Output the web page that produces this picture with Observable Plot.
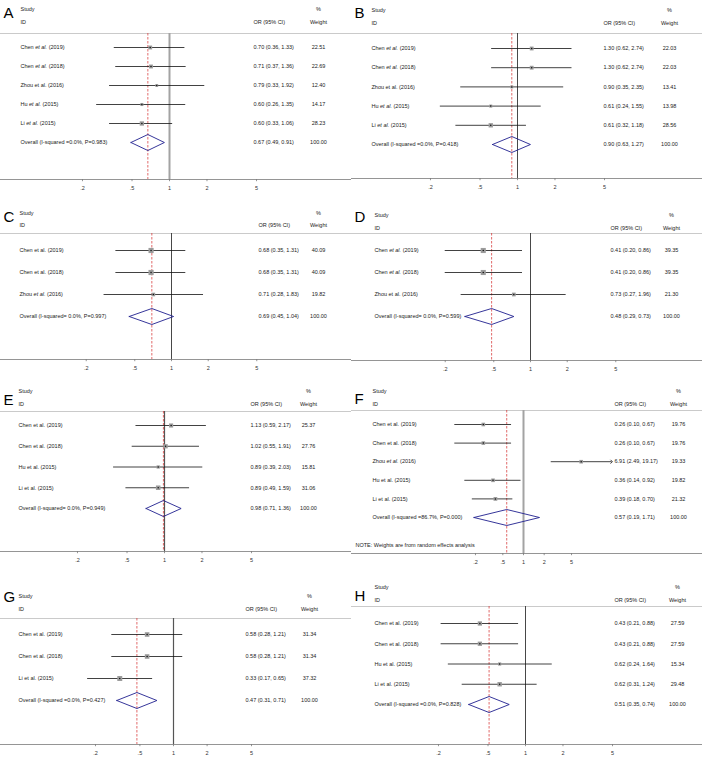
<!DOCTYPE html>
<html><head><meta charset="utf-8">
<script src="https://cdn.jsdelivr.net/npm/d3@7"></script>
<script src="https://cdn.jsdelivr.net/npm/@observablehq/plot@0.6"></script>
<style>
body{margin:0;background:#fff;}
#grid{display:grid;grid-template-columns:351px 351px;grid-template-rows:190px 190px 190px 188px;width:702px;}
#grid > div{position:relative;overflow:visible;}
svg{display:block;}
</style></head><body><div id="grid"></div>
<script>
// ---------------- DATA ----------------
const tickValues = [0.2, 0.5, 1, 2, 5];
const tickLabels = [".2", ".5", "1", "2", "5"];
const noteF = "NOTE: Weights are from random effects analysis";

const studiesA = ["Chen et al. (2019)", "Chen et al. (2018)", "Zhou et al. (2016)", "Hu et al. (2015)", "Li et al. (2015)"];
const italicA = [true, true, false, true, true];
const orA = [0.70, 0.71, 0.79, 0.60, 0.60];
const loA = [0.36, 0.37, 0.33, 0.26, 0.33];
const hiA = [1.33, 1.36, 1.92, 1.35, 1.06];
const wA = [22.51, 22.69, 12.40, 14.17, 28.23];
const overallLabelA = "Overall (I-squared =0.0%, P=0.983)";
const overallA = [0.67, 0.49, 0.91];

const studiesB = ["Chen et al. (2019)", "Chen et al. (2018)", "Zhou et al. (2016)", "Hu et al. (2015)", "Li et al. (2015)"];
const italicB = [true, true, false, true, true];
const orB = [1.30, 1.30, 0.90, 0.61, 0.61];
const loB = [0.62, 0.62, 0.35, 0.24, 0.32];
const hiB = [2.74, 2.74, 2.35, 1.55, 1.18];
const wB = [22.03, 22.03, 13.41, 13.98, 28.56];
const overallLabelB = "Overall (I-squared =0.0%, P=0.418)";
const overallB = [0.90, 0.63, 1.27];

const studiesC = ["Chen et al. (2019)", "Chen et al. (2018)", "Zhou et al. (2016)"];
const italicC = [false, false, true];
const orC = [0.68, 0.68, 0.71];
const loC = [0.35, 0.35, 0.28];
const hiC = [1.31, 1.31, 1.83];
const wC = [40.09, 40.09, 19.82];
const overallLabelC = "Overall (I-squared= 0.0%, P=0.997)";
const overallC = [0.69, 0.45, 1.04];

const studiesD = ["Chen et al. (2019)", "Chen et al. (2018)", "Zhou et al. (2016)"];
const italicD = [true, true, false];
const orD = [0.41, 0.41, 0.73];
const loD = [0.20, 0.20, 0.27];
const hiD = [0.86, 0.86, 1.96];
const wD = [39.35, 39.35, 21.30];
const overallLabelD = "Overall (I-squared= 0.0%, P=0.599)";
const overallD = [0.48, 0.29, 0.73];

const studiesE = ["Chen et al. (2019)", "Chen et al. (2018)", "Hu et al. (2015)", "Li et al. (2015)"];
const italicE = [false, false, false, false];
const orE = [1.13, 1.02, 0.89, 0.89];
const loE = [0.59, 0.55, 0.39, 0.49];
const hiE = [2.17, 1.91, 2.03, 1.59];
const wE = [25.37, 27.76, 15.81, 31.06];
const overallLabelE = "Overall (I-squared= 0.0%, P=0.949)";
const overallE = [0.98, 0.71, 1.36];

const studiesF = ["Chen et al. (2019)", "Chen et al. (2018)", "Zhou et al. (2016)", "Hu et al. (2015)", "Li et al. (2015)"];
const italicF = [false, false, true, false, false];
const orF = [0.26, 0.26, 6.91, 0.36, 0.39];
const loF = [0.10, 0.10, 2.49, 0.14, 0.18];
const hiF = [0.67, 0.67, 19.17, 0.92, 0.70];
const wF = [19.76, 19.76, 19.33, 19.82, 21.32];
const overallLabelF = "Overall (I-squared =86.7%, P=0.000)";
const overallF = [0.57, 0.19, 1.71];

const studiesG = ["Chen et al. (2019)", "Chen et al. (2018)", "Li et al. (2015)"];
const italicG = [false, false, false];
const orG = [0.58, 0.58, 0.33];
const loG = [0.28, 0.28, 0.17];
const hiG = [1.21, 1.21, 0.65];
const wG = [31.34, 31.34, 37.32];
const overallLabelG = "Overall (I-squared =0.0%, P=0.427)";
const overallG = [0.47, 0.31, 0.71];

const studiesH = ["Chen et al. (2019)", "Chen et al. (2018)", "Hu et al. (2015)", "Li et al. (2015)"];
const italicH = [false, false, false, false];
const orH = [0.43, 0.43, 0.62, 0.62];
const loH = [0.21, 0.21, 0.24, 0.31];
const hiH = [0.88, 0.88, 1.64, 1.24];
const wH = [27.59, 27.59, 15.34, 29.48];
const overallLabelH = "Overall (I-squared =0.0%, P=0.828)";
const overallH = [0.51, 0.35, 0.74];

// ---------------- LAYOUT (pixel positions inside each panel) ----------------
const panels = [
  {letter:"A", names:studiesA, italic:italicA, est:orA, lo:loA, hi:hiA, w:wA, ovLabel:overallLabelA, ov:overallA,
   L:{h:190, letterY:17, studyX:20, studyY:9, idY:22, orX:253, wX:318, sep:33, first:47, overall:142, axis:179, nullX:169, k:124.5, nullColor:"#a3a3a3", nullWidth:2}},
  {letter:"B", names:studiesB, italic:italicB, est:orB, lo:loB, hi:hiB, w:wB, ovLabel:overallLabelB, ov:overallB,
   L:{h:190, letterY:17, studyX:20, studyY:10, idY:23, orX:252, wX:318, sep:33, first:48, overall:144, axis:178, nullX:166, k:124.5, nullColor:"#333", nullWidth:0.9}},
  {letter:"C", names:studiesC, italic:italicC, est:orC, lo:loC, hi:hiC, w:wC, ovLabel:overallLabelC, ov:overallC,
   L:{h:190, letterY:31, studyX:19, studyY:23, idY:35, orX:258, wX:318, sep:43, first:60, overall:126, axis:169, nullX:171, k:122, nullColor:"#333", nullWidth:0.9}},
  {letter:"D", names:studiesD, italic:italicD, est:orD, lo:loD, hi:hiD, w:wD, ovLabel:overallLabelD, ov:overallD,
   L:{h:190, letterY:31, studyX:23, studyY:25, idY:38, orX:259, wX:320, sep:43, first:60, overall:126, axis:170, nullX:179, k:122, nullColor:"#333", nullWidth:0.9}},
  {letter:"E", names:studiesE, italic:italicE, est:orE, lo:loE, hi:hiE, w:wE, ovLabel:overallLabelE, ov:overallE,
   L:{h:190, letterY:24, studyX:18, studyY:11, idY:24, orX:250, wX:308, sep:31, first:45, overall:128, axis:171, nullX:164, k:124.5, nullColor:"#555", nullWidth:1.2}},
  {letter:"F", names:studiesF, italic:italicF, est:orF, lo:loF, hi:hiF, w:wF, ovLabel:overallLabelF, ov:overallF, note:noteF,
   L:{h:190, letterY:23, studyX:21, studyY:11, idY:24, orX:263, wX:327, sep:30, first:44, overall:137, axis:173, nullX:172, k:68.7, nullColor:"#a3a3a3", nullWidth:2, noteY:165}},
  {letter:"G", names:studiesG, italic:italicG, est:orG, lo:loG, hi:hiG, w:wG, ovLabel:overallLabelG, ov:overallG,
   L:{h:188, letterY:31, studyX:18, studyY:26, idY:39, orX:245, wX:309, sep:48, first:64, overall:130, axis:174, nullX:173, k:111.6, nullColor:"#555", nullWidth:1.2}},
  {letter:"H", names:studiesH, italic:italicH, est:orH, lo:loH, hi:hiH, w:wH, ovLabel:overallLabelH, ov:overallH,
   L:{h:188, letterY:30, studyX:23, studyY:17, idY:30, orX:263, wX:326, sep:36, first:53, overall:134, axis:174, nullX:174, k:124.5, nullColor:"#333", nullWidth:0.9}}
];

const W = 351;
const fmt = v => v.toFixed(2);
const svgNS = "http://www.w3.org/2000/svg";

function forest(p) {
  const L = p.L, H = L.h, n = p.names.length;
  const rows = p.names.map((name, i) => ({i, name, est: p.est[i], lo: p.lo[i], hi: p.hi[i], w: p.w[i]}));
  const ov = {i: n, name: p.ovLabel, est: p.ov[0], lo: p.ov[1], hi: p.ov[2], w: 100};
  const all = [...rows, ov];
  const unit = (L.overall - L.first) / n;
  const d0 = -(L.first - L.sep) / unit;
  const d1 = n + (L.axis - L.overall) / unit;
  const xd = [Math.pow(10, -L.nullX / L.k), Math.pow(10, (W - L.nullX) / L.k)];
  const h = 8 / unit;
  const diamond = [
    {x: ov.lo, y: n}, {x: ov.est, y: n - h}, {x: ov.hi, y: n}, {x: ov.est, y: n + h}, {x: ov.lo, y: n}
  ];
  const ticks = tickValues.map((v, i) => ({v, label: tickLabels[i]}));
  const txt = {fill: "#222", lineAnchor: "middle"};
  const hdr = (s, dx, yPx, anchor = "start", extra = {}) =>
    Plot.text([s], {text: d => d, frameAnchor: "top-left", dx, dy: yPx - L.sep, textAnchor: anchor, ...txt, ...extra});
  const marks = [
    Plot.ruleY([d0], {stroke: "#bdbdbd", strokeWidth: 0.8}),
    Plot.ruleY([d1], {stroke: "#7a7a7a", strokeWidth: 0.8}),
    Plot.ruleX(ticks, {x: "v", y1: d1, y2: d1 + 2.2 / unit, stroke: "#7a7a7a", strokeWidth: 0.8}),
    Plot.text(ticks, {x: "v", text: "label", frameAnchor: "bottom", dy: 9, ...txt, fill: "#333"}),
    Plot.ruleX([1], {stroke: L.nullColor, strokeWidth: L.nullWidth}),
    Plot.ruleX([ov.est], {stroke: "#d42a2a", strokeWidth: 0.7, strokeDasharray: "2.5,1.5"}),
    Plot.ruleY(rows.filter(d => !(d.hi > 10)), {y: "i", x1: "lo", x2: "hi", stroke: "#111", strokeWidth: 0.8}),
    Plot.link(rows.filter(d => d.hi > 10), {x1: "lo", x2: "hi", y1: "i", y2: "i", stroke: "#111", strokeWidth: 0.8, markerEnd: "arrow"}),
    Plot.dot(rows, {x: "est", y: "i", r: "w", symbol: "square", fill: "#9c9c9c", stroke: "none"}),
    Plot.dot(rows, {x: "est", y: "i", r: 0.75, fill: "#111", stroke: "none"}),
    Plot.line(diamond, {x: "x", y: "y", stroke: "#1f1f8f", strokeWidth: 0.9}),
    Plot.text(all, {y: "i", text: "name", frameAnchor: "left", dx: L.studyX, textAnchor: "start", ...txt}),
    Plot.text(all, {y: "i", text: d => `${fmt(d.est)} (${fmt(d.lo)}, ${fmt(d.hi)})`, frameAnchor: "left", dx: L.orX, textAnchor: "start", ...txt}),
    Plot.text(all, {y: "i", text: d => fmt(d.w), frameAnchor: "left", dx: L.wX, textAnchor: "middle", ...txt}),
    hdr("Study", L.studyX, L.studyY),
    hdr("ID", L.studyX, L.idY),
    hdr("%", L.wX, L.studyY, "middle"),
    hdr("OR (95% CI)", L.orX, L.idY),
    hdr("Weight", L.wX, L.idY, "middle"),
    Plot.text([p.letter], {text: d => d, frameAnchor: "top-left", dx: 3, dy: L.letterY - L.sep, textAnchor: "start",
      lineAnchor: "bottom", fontSize: 15, fill: "#000"})
  ];
  if (p.note) marks.push(hdr(p.note, 4, L.noteY));
  const svg = Plot.plot({
    width: W, height: H,
    marginLeft: 0, marginRight: 0, marginTop: L.sep, marginBottom: H - L.axis,
    style: {fontFamily: "'Liberation Sans', Arial, Helvetica, sans-serif", fontSize: "5.5px", background: "white", color: "#333", overflow: "visible"},
    x: {type: "log", domain: xd, range: [0, W], axis: null},
    y: {type: "linear", domain: [d0, d1], range: [L.sep, L.axis], axis: null},
    r: {type: "sqrt", domain: [0, 100], range: [0, 4.6]},
    marks
  });
  // italic "et al."
  const italicNames = new Set(p.names.filter((_, i) => p.italic[i]));
  svg.querySelectorAll("text, tspan").forEach(el => {
    if (el.children.length) return;
    const s = el.textContent;
    if (!italicNames.has(s)) return;
    const m = s.match(/^(.*?)(et al\.)(.*)$/);
    if (!m) return;
    el.textContent = "";
    el.appendChild(document.createTextNode(m[1]));
    const t = document.createElementNS(svgNS, "tspan");
    t.setAttribute("font-style", "italic");
    t.textContent = m[2];
    el.appendChild(t);
    el.appendChild(document.createTextNode(m[3]));
  });
  return svg;
}

const grid = document.getElementById("grid");
for (const p of panels) {
  const div = document.createElement("div");
  div.appendChild(forest(p));
  grid.appendChild(div);
}
</script>
</body></html>
